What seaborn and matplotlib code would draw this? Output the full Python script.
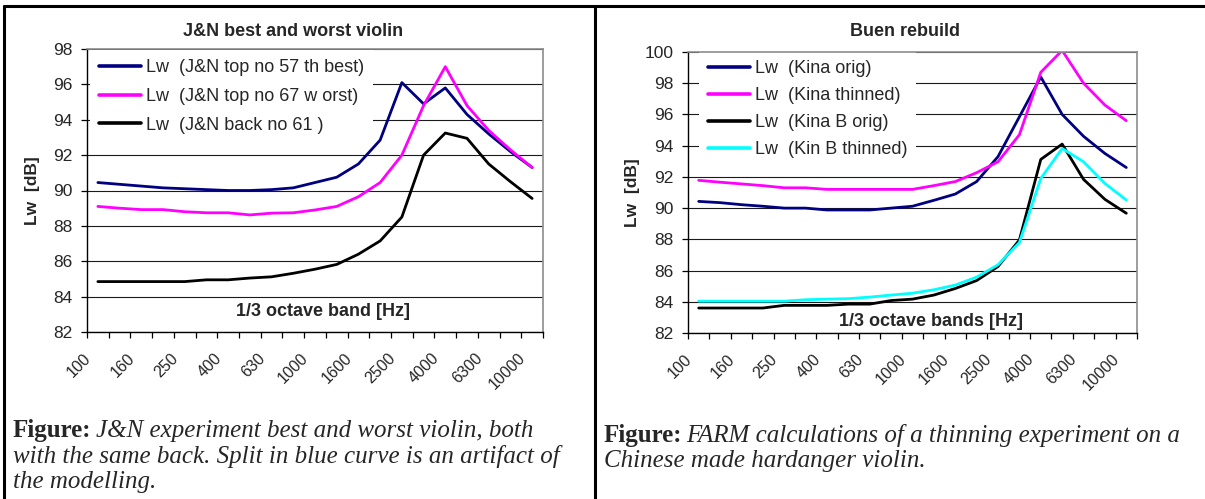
import numpy as np
import pandas as pd
import matplotlib.pyplot as plt
import matplotlib.transforms as mtransforms
from matplotlib.lines import Line2D
import seaborn as sns

# 1/3 octave bands (Hz), every other one gets a label
bands = ["100", "125", "160", "200", "250", "315", "400", "500", "630", "800",
         "1000", "1250", "1600", "2000", "2500", "3150", "4000", "5000", "6300",
         "8000", "10000"]
tick_labels = bands[::2]

# left panel: J&N best and worst violin
jn_best = [90.45, 90.35, 90.25, 90.15, 90.1, 90.05, 90.0, 90.0, 90.05, 90.15, 90.45,
           90.75, 91.5, 92.85, 96.1, 94.9, 95.8, 94.3, 93.2, 92.2, 91.3]
jn_worst = [89.1, 89.0, 88.92, 88.92, 88.8, 88.74, 88.74, 88.62, 88.72, 88.74, 88.9,
            89.1, 89.65, 90.45, 92.0, 94.8, 97.0, 94.8, 93.4, 92.3, 91.3]
jn_back = [84.85, 84.85, 84.85, 84.85, 84.85, 84.95, 84.95, 85.05, 85.12, 85.32, 85.55,
           85.82, 86.4, 87.15, 88.5, 92.0, 93.25, 92.95, 91.5, 90.5, 89.55]
left_names = ["Lw  (J&N top no 57 th best)", "Lw  (J&N top no 67 w orst)", "Lw  (J&N back no 61 )"]

# right panel: Buen rebuild
kina_orig = [90.43, 90.35, 90.22, 90.12, 90.0, 90.0, 89.88, 89.88, 89.88, 90.0, 90.12,
             90.5, 90.9, 91.7, 93.3, 95.85, 98.4, 96.0, 94.6, 93.5, 92.6]
kina_thin = [91.78, 91.66, 91.55, 91.44, 91.3, 91.3, 91.2, 91.2, 91.2, 91.2, 91.2,
             91.44, 91.7, 92.27, 92.97, 94.7, 98.7, 100.1, 98.0, 96.6, 95.6]
kina_b_orig = [83.6, 83.6, 83.6, 83.6, 83.77, 83.77, 83.77, 83.85, 83.85, 84.08, 84.17,
               84.43, 84.85, 85.36, 86.26, 87.96, 93.12, 94.1, 91.84, 90.56, 89.67]
kin_b_thin = [84.04, 84.04, 84.04, 84.04, 84.04, 84.13, 84.17, 84.2, 84.3, 84.43, 84.55,
              84.77, 85.07, 85.58, 86.37, 87.8, 91.9, 93.82, 92.97, 91.58, 90.52]
right_names = ["Lw  (Kina orig)", "Lw  (Kina thinned)", "Lw  (Kina B orig)", "Lw  (Kin B thinned)"]

navy, pink, black, cyan = "#000080", "#FF00FF", "#000000", "#00FFFF"

W, H = 1205, 499


def long_df(series, names):
    rows = []
    for name, vals in zip(names, series):
        for b, v in zip(bands, vals):
            rows.append({"band": b, "series": name, "value": v})
    return pd.DataFrame(rows)


def px_box(x0, y0, x1, y1):
    # pixel box (top-left origin) -> figure fraction [l, b, w, h]
    return [x0 / W, 1 - y1 / H, (x1 - x0) / W, (y1 - y0) / H]


sns.set_style("white")
plt.rcParams['font.family'] = ['Liberation Sans', 'DejaVu Sans']

fig = plt.figure(figsize=(W / 100, H / 100), dpi=100)


def draw_panel(ax, df, names, colors, ymax, title, title_xy, xlabel, xlabel_xy,
               ylabel_x, leg_anchor, labelspacing):
    sns.lineplot(data=df, x="band", y="value", hue="series", hue_order=names,
                 palette=colors, sort=False, linewidth=2.0, legend=False, ax=ax)
    ax.set_xlim(-0.5, len(bands) - 0.5)
    ax.set_ylim(82, ymax)
    ax.set_yticks(np.arange(82, ymax + 1, 2))
    ax.yaxis.grid(True, color="#1a1a1a", linewidth=0.8)
    ax.set_axisbelow(True)
    for s in ["left", "bottom"]:
        ax.spines[s].set_color("black")
        ax.spines[s].set_linewidth(1.0)
    for s in ["top", "right"]:
        ax.spines[s].set_color("#8c8c8c")
        ax.spines[s].set_linewidth(1.2)

    ax.set_xticks(range(0, len(bands), 2))
    ax.set_xticklabels(tick_labels, rotation=45, ha="right", va="center",
                       rotation_mode="anchor", fontsize=11.5)
    ax.set_xticks(np.arange(-0.5, len(bands), 1), minor=True)
    ax.tick_params(axis="x", which="major", length=0, pad=17)
    ax.tick_params(axis="x", which="minor", length=4, width=0.9, direction="out",
                   color="black", bottom=True)
    ax.tick_params(axis="y", length=4, width=0.9, direction="out", color="black",
                   left=True, labelsize=12.5, pad=6.3)
    shift = mtransforms.ScaledTranslation(-9 / 100, 0, fig.dpi_scale_trans)
    for lab in ax.get_xticklabels():
        lab.set_transform(lab.get_transform() + shift)

    ax.set_xlabel("")
    ax.set_ylabel("Lw  [dB]", fontsize=12.5, fontweight="bold")
    ax.yaxis.set_label_coords(ylabel_x, 0.5)
    ax.text(xlabel_xy[0], xlabel_xy[1], xlabel, transform=ax.transAxes,
            ha="center", va="center", fontsize=13, fontweight="bold")
    fig.text(title_xy[0] / W, 1 - title_xy[1] / H, title, ha="center", va="center",
             fontsize=13, fontweight="bold")

    handles = [Line2D([], [], color=c, linewidth=2.6) for c in colors]
    leg = ax.legend(handles, names, loc="upper left", bbox_to_anchor=leg_anchor,
                    frameon=True, facecolor="white", edgecolor="none", framealpha=1,
                    fancybox=False, fontsize=13, handlelength=2.3,
                    handletextpad=0.28, labelspacing=labelspacing, borderpad=0.5,
                    borderaxespad=0)
    # under the spines, above the grid
    leg.set_zorder(2.2)


ax1 = fig.add_axes(px_box(87, 49, 543, 332))
draw_panel(ax1, long_df([jn_best, jn_worst, jn_back], left_names), left_names,
           [navy, pink, black], 98, "J&N best and worst violin", (293, 32),
           "1/3 octave band [Hz]", (0.518, 0.071), -0.103, (0.0066, 0.995), 0.64)

ax2 = fig.add_axes(px_box(688, 52, 1137, 333))
draw_panel(ax2, long_df([kina_orig, kina_thin, kina_b_orig, kin_b_thin], right_names),
           right_names, [navy, pink, black, cyan], 100, "Buen rebuild", (905, 32),
           "1/3 octave bands [Hz]", (0.541, 0.04), -0.107, (0.0245, 1.004), 0.56)

# table-like frame lines
lw_frame = 2.2
fig.add_artist(Line2D([4 / W, 1], [1 - 6 / H, 1 - 6 / H], color="black", lw=lw_frame))
fig.add_artist(Line2D([4 / W, 4 / W], [0, 1 - 6 / H], color="black", lw=lw_frame))
fig.add_artist(Line2D([595 / W, 595 / W], [0, 1 - 6 / H], color="black", lw=lw_frame))

# captions
cap_size = 18
serif = ['Liberation Serif', 'DejaVu Serif']
fig.canvas.draw()
renderer = fig.canvas.get_renderer()


def caption(x, y, first, rest):
    t = fig.text(x / W, 1 - y / H, "Figure:", family=serif, fontweight="bold",
                 fontsize=cap_size, va="baseline", ha="left")
    bb = t.get_window_extent(renderer=renderer)
    fig.text(bb.x1 / W + 4 / W, 1 - y / H, first, family=serif, style="italic",
             fontsize=cap_size, va="baseline", ha="left")
    for k, line in enumerate(rest):
        fig.text(x / W, 1 - (y + 25.5 * (k + 1)) / H, line, family=serif,
                 style="italic", fontsize=cap_size, va="baseline", ha="left")


caption(13, 437, "J&N experiment best and worst violin, both",
        ["with the same back. Split in blue curve is an artifact of", "the modelling."])
caption(604, 442, "FARM calculations of a thinning experiment on a",
        ["Chinese made hardanger violin."])

fig.savefig("out.png", dpi=100)
